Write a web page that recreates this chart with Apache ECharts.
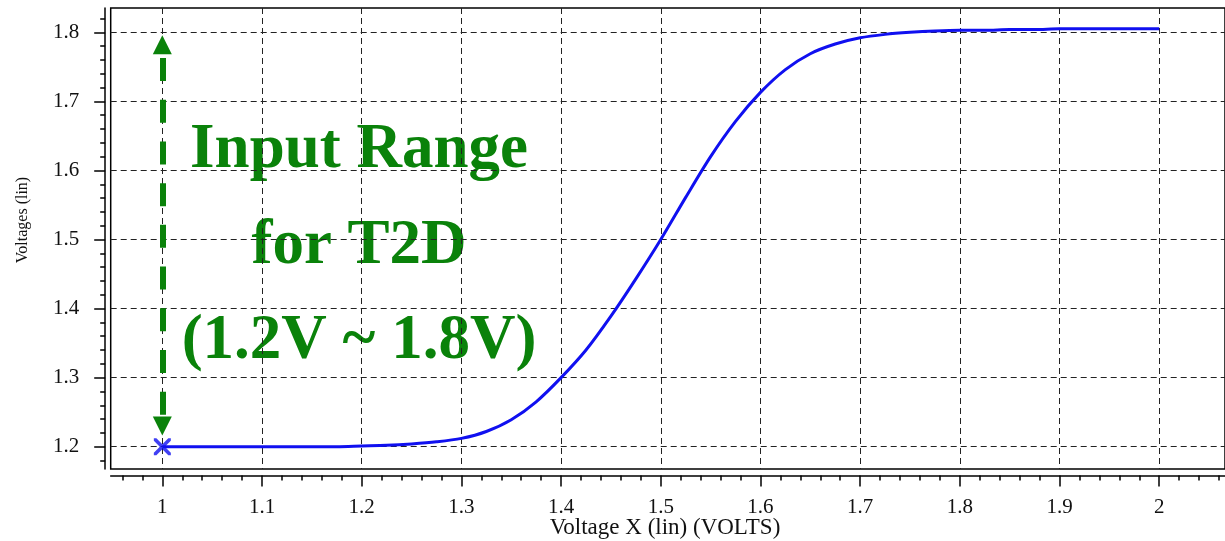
<!DOCTYPE html>
<html>
<head>
<meta charset="utf-8">
<title>Voltage transfer curve</title>
<script src="https://cdn.jsdelivr.net/npm/echarts@6/dist/echarts.min.js"></script>
<style>
  html, body { margin: 0; padding: 0; background: #fff; }
  #chart { width: 1225px; height: 541px; }
</style>
</head>
<body>
<div id="chart"></div>
<script>
// Swept input voltage (V), one sample every 25 mV
const sweepX = [1.000, 1.025, 1.050, 1.075, 1.100, 1.125, 1.150, 1.175,
  1.200, 1.225, 1.250, 1.275, 1.300, 1.325, 1.350, 1.375,
  1.400, 1.425, 1.450, 1.475, 1.500, 1.525, 1.550, 1.575,
  1.600, 1.625, 1.650, 1.675, 1.700, 1.725, 1.750, 1.775,
  1.800, 1.825, 1.850, 1.875, 1.900, 1.925, 1.950, 1.975, 2.000];
// Output voltage (V) at each input step
const outputV = [1.200, 1.200, 1.200, 1.200, 1.200, 1.200, 1.200, 1.200,
  1.201, 1.202, 1.204, 1.207, 1.212, 1.222, 1.239, 1.265,
  1.300, 1.340, 1.389, 1.443, 1.500, 1.561, 1.620, 1.671,
  1.713, 1.746, 1.769, 1.783, 1.792, 1.797, 1.800, 1.802,
  1.803, 1.803, 1.804, 1.804, 1.805, 1.805, 1.805, 1.805, 1.805];

// Starting point of the sweep
const startPoint = [1.0, 1.2];

// Range arrow (x position, bottom tip, top tip)
const rangeArrowX = 1.0;
const rangeArrowY = [1.23, 1.782];

// Annotation lines
const noteLines = ['Input Range', 'for T2D', '(1.2V ~ 1.8V)'];

// Axis tick values
const xMajorTicks = [1, 1.1, 1.2, 1.3, 1.4, 1.5, 1.6, 1.7, 1.8, 1.9, 2];
const yMajorTicks = [1.2, 1.3, 1.4, 1.5, 1.6, 1.7, 1.8];
const xTitle = 'Voltage X (lin) (VOLTS)';
const yTitle = 'Voltages (lin)';

// Minor ruler ticks every 0.02 V
function minorTicks(from, to) {
  const out = [];
  for (let i = Math.round(from * 50); i <= Math.round(to * 50); i++) out.push(+(i / 50).toFixed(2));
  return out;
}
const xMinorTicks = minorTicks(0.96, 2.06);
const yMinorTicks = minorTicks(1.18, 1.82);

const X_MIN = 0.9482, X_MAX = 2.066;
const Y_MIN = 1.1677, Y_MAX = 1.8352;

const serif = '"Liberation Serif", "DejaVu Serif", serif';
const gridLine = { show: true, lineStyle: { color: '#222', width: 1, type: [6, 4] } };

const chart = echarts.init(document.getElementById('chart'), null, { renderer: 'canvas' });

const xMajor = {
  type: 'value', min: X_MIN, max: X_MAX, position: 'bottom', offset: 6.5,
  axisLine: { show: true, lineStyle: { color: '#000', width: 1.5 } },
  axisTick: { show: true, customValues: xMajorTicks, length: 11, inside: false, lineStyle: { color: '#000', width: 1.5 } },
  axisLabel: { customValues: xMajorTicks, margin: 21, color: '#111', fontFamily: serif, fontSize: 21 },
  splitLine: gridLine, minorTick: { show: false }
};
const xMinor = {
  type: 'value', min: X_MIN, max: X_MAX, position: 'bottom', offset: 6.5,
  axisLine: { show: false },
  axisTick: { show: true, customValues: xMinorTicks, length: 5, lineStyle: { color: '#000', width: 1.5 } },
  axisLabel: { show: false }, splitLine: { show: false }
};
const yMajor = {
  type: 'value', min: Y_MIN, max: Y_MAX, position: 'left', offset: 5.5,
  axisLine: { show: true, lineStyle: { color: '#000', width: 1.5 } },
  axisTick: { show: true, customValues: yMajorTicks, length: 11, lineStyle: { color: '#000', width: 1.5 } },
  axisLabel: { customValues: yMajorTicks, margin: 26, color: '#111', fontFamily: serif, fontSize: 21 },
  splitLine: gridLine
};
const yMinor = {
  type: 'value', min: Y_MIN, max: Y_MAX, position: 'left', offset: 5.5,
  axisLine: { show: false },
  axisTick: { show: true, customValues: yMinorTicks, length: 5, lineStyle: { color: '#000', width: 1.5 } },
  axisLabel: { show: false }, splitLine: { show: false }
};

const green = '#0a820a';
const blue = '#1010f0';

chart.setOption({
  backgroundColor: '#fff',
  animation: false,
  grid: { left: 110.7, top: 8, right: -15, bottom: 72, show: true, borderColor: '#000', borderWidth: 1.5, backgroundColor: 'transparent' },
  xAxis: [xMajor, xMinor],
  yAxis: [yMajor, yMinor],
  series: [
    {
      type: 'line',
      name: 'Vout',
      data: sweepX.map((x, i) => [x, outputV[i]]),
      showSymbol: false,
      smooth: 0.3,
      lineStyle: { color: blue, width: 3 },
      z: 3,
      markLine: {
        silent: true,
        symbol: ['triangle', 'triangle'],
        symbolSize: [19, 19],
        label: { show: false },
        lineStyle: { color: green, width: 6, type: [23, 18.7], dashOffset: 28.4 },
        data: [[{ coord: [rangeArrowX, rangeArrowY[1]] }, { coord: [rangeArrowX, rangeArrowY[0]] }]]
      }
    },
    {
      type: 'scatter',
      name: 'start',
      data: [startPoint],
      symbol: 'path://M0,0 L3,0 L10,7 L17,0 L20,0 L20,3 L13,10 L20,17 L20,20 L17,20 L10,13 L3,20 L0,20 L0,17 L7,10 L0,3 Z',
      symbolSize: 17,
      itemStyle: { color: blue },
      z: 5
    }
  ],
  graphic: [
    {
      type: 'text', x: 665, y: 528, style: {
        text: xTitle, align: 'center', verticalAlign: 'middle',
        font: '23px ' + serif, fill: '#111'
      }
    },
    {
      type: 'text', x: 23, y: 220, rotation: Math.PI / 2, style: {
        text: yTitle, align: 'center', verticalAlign: 'middle',
        font: '16px ' + serif, fill: '#111'
      }
    }
  ].concat(noteLines.map((t, i) => ({
    type: 'text', x: 359, y: 151 + i * 95.5, style: {
      text: t, align: 'center', verticalAlign: 'middle',
      font: 'bold 63px ' + serif, fill: green
    }
  })))
});
</script>
</body>
</html>
